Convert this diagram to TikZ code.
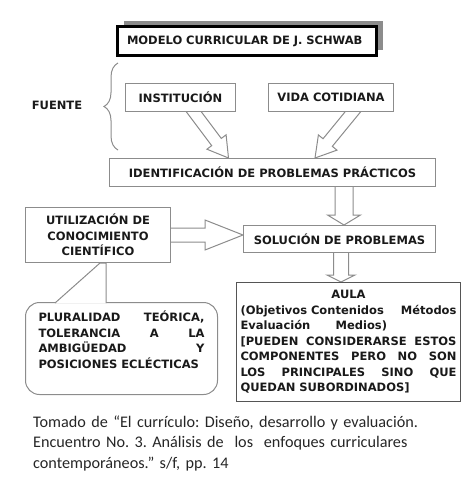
\documentclass[tikz,border=0pt]{standalone}
\usepackage{fontspec}
\setmainfont{DejaVu Sans}
\newfontfamily\notefont{Carlito}
\usetikzlibrary{positioning, calc, shadows, backgrounds, decorations.pathreplacing}
\definecolor{mygray}{RGB}{140,140,140}
\definecolor{mydark}{RGB}{85,85,85}
\definecolor{myshadow}{RGB}{140,140,140}
\tikzset{
  box/.style={draw=mygray, fill=white, line width=1pt, inner sep=2pt,
    font=\fontsize{11.5}{15.5}\selectfont\bfseries, text=black!90},
  title/.style={box, draw=black, line width=2.7pt, align=left,
    drop shadow={shadow xshift=6pt, shadow yshift=6pt, fill=myshadow, opacity=1}},
  callout/.style={box, rounded corners=14pt},
  plain/.style={inner sep=0, font=\fontsize{11.5}{15.5}\selectfont\bfseries, text=black!90},
  harrow/.style={draw=mygray, fill=white, line width=1pt, line join=miter},
  fuentebrace/.style={decorate, decoration={brace, amplitude=14pt}, draw=mygray, line width=1pt},
  note/.style={font=\notefont\fontsize{16.2}{20.5}\selectfont\frenchspacing, text=black!85,
    text width=425pt, align=left, anchor=base west, inner sep=0}
}
% hollow arrow: from, to, half shaft, half head, head length
\newcommand{\bigarrow}[5]{%
  \coordinate (hb) at ($(#2)!#5!(#1)$);
  \draw[harrow] ($(#1)!#3!90:(#2)$) -- ($(hb)!#3!90:(#2)$) -- ($(hb)!#4!90:(#2)$)
    -- (#2) -- ($(hb)!#4!-90:(#2)$) -- ($(hb)!#3!-90:(#2)$) -- ($(#1)!#3!-90:(#2)$) -- cycle;
}

\begin{document}
\begin{tikzpicture}[x=1pt, y=-1pt]
\useasboundingbox (0,0) rectangle (466,480);

\node [title, minimum width=259pt, minimum height=29pt, text width=240pt] (schwab) at (247,41) {MODELO CURRICULAR DE J. SCHWAB};

\node [plain] (fuente) at (57,105) {FUENTE};
\coordinate (bracetop) at (118,63);
\coordinate (bracebot) at (118,150);
\draw[fuentebrace] (bracebot) -- (bracetop);

\node [box, minimum width=110pt, minimum height=28pt] (inst) at (180.5,97.5) {INSTITUCIÓN};
\node [box, minimum width=125pt, minimum height=28pt] (vida) at (331,97.5) {VIDA COTIDIANA};
\node [box, minimum width=326pt, minimum height=28pt] (ident) at (272.5,172.5) {IDENTIFICACIÓN DE PROBLEMAS PRÁCTICOS};

\node [box, minimum width=145pt, minimum height=55pt, align=center] (util) at (98,235) {UTILIZACIÓN DE\\CONOCIMIENTO\\CIENTÍFICO};
\node [box, minimum width=192pt, minimum height=27pt] (sol) at (339.5,239) {SOLUCIÓN DE PROBLEMAS};

\node [box, draw=mydark, minimum width=224pt, minimum height=119pt, text width=216pt, align=left] (aula) at (348.5,342) {%
  \makebox[\linewidth]{AULA}\\
  (Objetivos Contenidos\hfill Métodos\\
  Evaluación\hspace{2.2em}Medios)\\
  {[}PUEDEN\hfill CONSIDERARSE\hfill ESTOS\\
  COMPONENTES\hfill PERO\hfill NO\hfill SON\\
  LOS\hfill PRINCIPALES\hfill SINO\hfill QUE\\
  QUEDAN SUBORDINADOS]};

\node [callout, minimum width=192pt, minimum height=92pt] (plur) at (121.5,348.5) {};
\node [plain, text width=166pt, align=left] (plurtext) at ($(plur.center)+(0,-9)$) {%
  PLURALIDAD\hfill TEÓRICA,\\
  TOLERANCIA\hfill A\hfill LA\\
  AMBIGÜEDAD\hfill Y\\
  POSICIONES ECLÉCTICAS};
\draw[box] ($(plur.north west)+(30,1)$) -- ($(util.south west)+(75,0)$)
  -- ($(util.south west)+(81,0)$) -- ($(plur.north west)+(81,1)$);

\begin{scope}[on background layer]
\coordinate (a1) at ($(inst.south)+(10.5,-4)$);
\coordinate (b1) at ($(ident.north)+(-44,0)$);
\bigarrow{a1}{b1}{6pt}{12pt}{20pt}
\coordinate (a2) at ($(vida.south)+(25,-4)$);
\coordinate (b2) at ($(ident.north)+(42.5,0)$);
\bigarrow{a2}{b2}{6pt}{12pt}{20pt}
\coordinate (a3) at ($(ident.south)+(71.5,-3)$);
\coordinate (b3) at (a3 |- sol.north);
\bigarrow{a3}{b3}{9pt}{16.5pt}{10pt}
\coordinate (a4) at ($(sol.south)+(1.5,-3)$);
\coordinate (b4) at (a4 |- aula.north);
\bigarrow{a4}{b4}{7.5pt}{14pt}{7pt}
\coordinate (a5) at ($(util.east)+(-3,0)$);
\coordinate (b5) at (sol.west |- a5);
\bigarrow{a5}{b5}{7pt}{15pt}{38pt}
\end{scope}

\node [note] (source) at (33,427) {Tomado de “El currículo: Diseño, desarrollo y evaluación.\\
  Encuentro No. 3. Análisis de\ \ los\ \ enfoques curriculares\\
  contemporáneos.” s/f, pp. 14};

\end{tikzpicture}
\end{document}
